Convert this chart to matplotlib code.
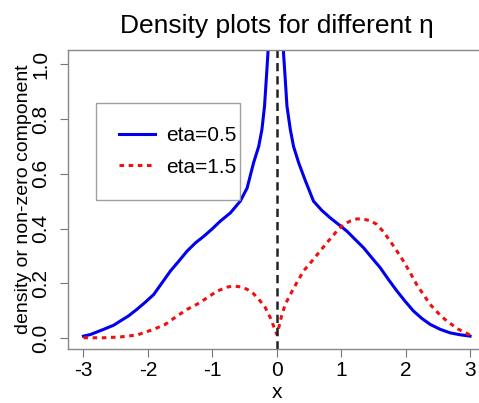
import numpy as np
import matplotlib
matplotlib.use("Agg")
import matplotlib.pyplot as plt

plt.rcParams["font.family"] = ["Liberation Sans", "DejaVu Sans"]

# eta = 0.5 (the spike at 0 runs off the top)
x_eta05 = [-3.0, -2.89, -2.685, -2.53, -2.43, -2.30, -2.17, -2.04, -1.91, -1.78,
           -1.65, -1.52, -1.39, -1.26, -1.13, -1.0, -0.876, -0.72, -0.566, -0.46,
           -0.36, -0.28, -0.23, -0.19, -0.163, -0.137, -0.08, 0.0, 0.06, 0.105,
           0.132, 0.158, 0.21, 0.26, 0.34, 0.44, 0.57, 0.70, 0.83, 0.958,
           1.09, 1.217, 1.346, 1.476, 1.605, 1.733, 1.864, 1.99, 2.12, 2.25,
           2.38, 2.535, 2.69, 2.845, 3.0]
y_eta05 = [0.007, 0.013, 0.032, 0.047, 0.062, 0.081, 0.105, 0.131, 0.159, 0.202,
           0.245, 0.281, 0.318, 0.348, 0.372, 0.399, 0.427, 0.457, 0.500, 0.548,
           0.64, 0.70, 0.762, 0.847, 0.944, 1.04, 1.5, 3.0, 1.5, 1.04,
           0.944, 0.847, 0.762, 0.70, 0.64, 0.577, 0.50, 0.466, 0.439, 0.415,
           0.39, 0.36, 0.33, 0.293, 0.257, 0.214, 0.172, 0.135, 0.099, 0.072,
           0.05, 0.032, 0.019, 0.012, 0.007]

# eta = 1.5
x_eta15 = [-3.0, -2.685, -2.43, -2.17, -1.91, -1.73, -1.55, -1.39, -1.24, -1.08,
           -0.93, -0.77, -0.67, -0.566, -0.46, -0.36, -0.256, -0.178, -0.10, -0.05,
           -0.008, 0.003, 0.044, 0.08, 0.132, 0.21, 0.31, 0.416, 0.545, 0.674,
           0.80, 0.93, 1.036, 1.14, 1.243, 1.32, 1.45, 1.553, 1.656, 1.76,
           1.864, 1.966, 2.07, 2.17, 2.276, 2.38, 2.51, 2.64, 2.82, 3.0]
y_eta15 = [0.001, 0.001, 0.004, 0.011, 0.032, 0.05, 0.08, 0.105, 0.123, 0.147,
           0.171, 0.186, 0.19, 0.187, 0.178, 0.162, 0.135, 0.111, 0.074, 0.044,
           0.019, 0.013, 0.05, 0.086, 0.123, 0.159, 0.202, 0.245, 0.281, 0.318,
           0.354, 0.39, 0.415, 0.427, 0.435, 0.435, 0.429, 0.415, 0.388, 0.354,
           0.318, 0.281, 0.239, 0.196, 0.159, 0.123, 0.09, 0.062, 0.032, 0.011]

x_ticks = [-3, -2, -1, 0, 1, 2, 3]
y_ticks = [0.0, 0.2, 0.4, 0.6, 0.8, 1.0]

fig = plt.figure(figsize=(4.79, 4.03), dpi=100)
ax = fig.add_axes([0.142, 0.134, 0.8716, 0.742])

ax.plot(x_eta05, y_eta05, color="#0000ee", lw=2.2, label="eta=0.5")
ax.plot(x_eta15, y_eta15, color="#ee1111", lw=2.2, linestyle=(0, (1.5, 1.5)),
        label="eta=1.5")
ax.axvline(0, color="#222222", lw=1.8, linestyle=(0, (3.3, 2.0)))

ax.set_xlim(-3.24, 3.24)
ax.set_ylim(-0.04, 1.052)
ax.set_xticks(x_ticks)
ax.set_xticklabels([str(t) for t in x_ticks])
ax.set_yticks(y_ticks)
ax.set_yticklabels([f"{t:.1f}" for t in y_ticks], rotation=90, va="center")
ax.tick_params(labelsize=15, length=6, color="#777777")
ax.tick_params(axis="x", pad=3)
ax.tick_params(axis="y", pad=7)

for s in ax.spines.values():
    s.set_color("#888888")
    s.set_linewidth(1.0)

ax.set_title("Density plots for different \u03b7", fontsize=19, pad=12)
ax.set_xlabel("x", fontsize=15, labelpad=2)
ax.set_ylabel("density or non-zero component", fontsize=14, labelpad=-1)

leg = ax.legend(loc="upper left", bbox_to_anchor=(0.0671, 0.823, 0.3449, 0.0),
                mode="expand", fontsize=15, frameon=True, fancybox=False,
                borderpad=1.1, labelspacing=0.62, handlelength=1.73,
                handletextpad=0.55, borderaxespad=0)
leg.get_frame().set_edgecolor("#888888")
leg.get_frame().set_linewidth(1.0)

fig.savefig("out.png", dpi=100)
